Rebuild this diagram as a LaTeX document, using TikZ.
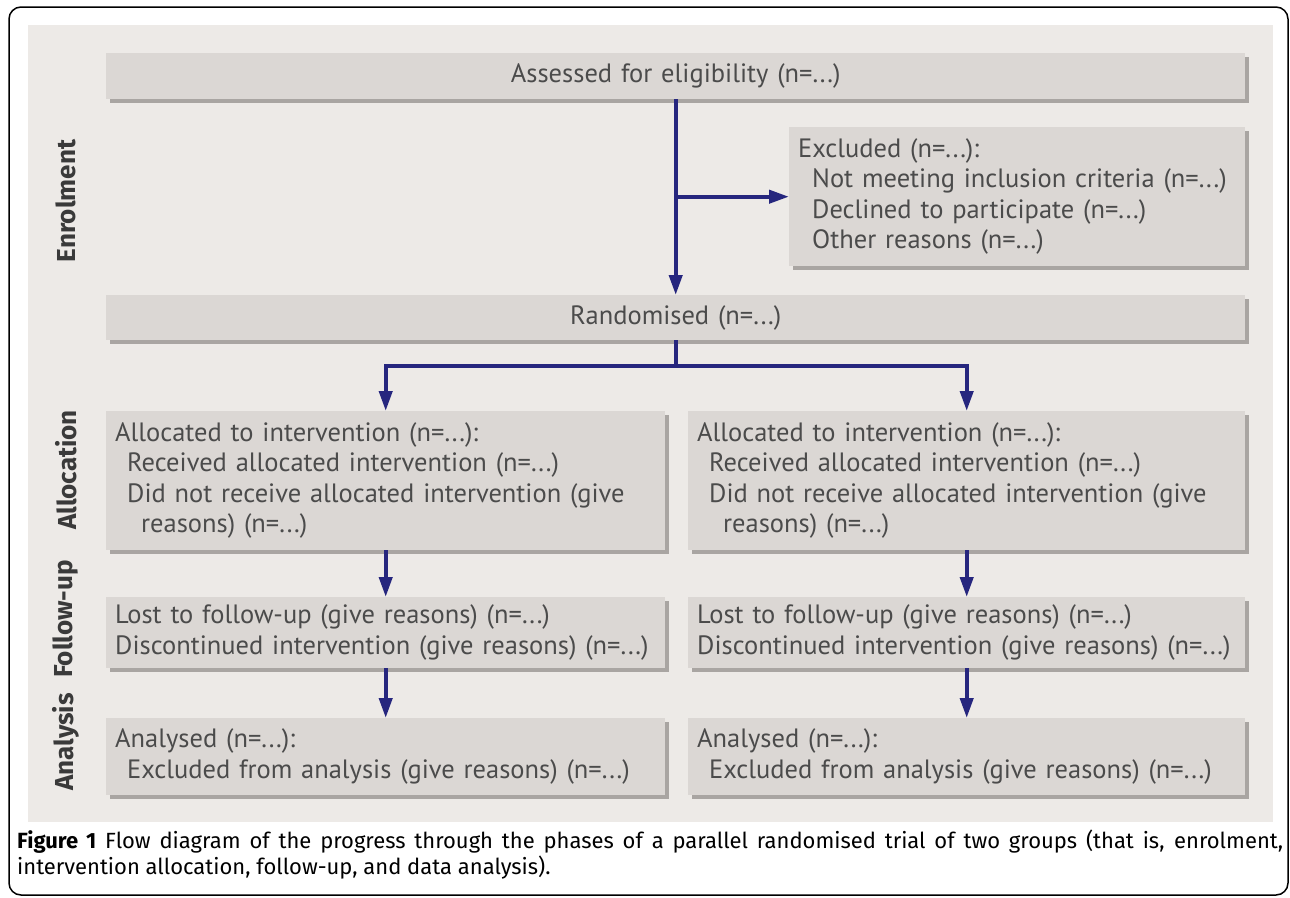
\documentclass[tikz,border=0pt]{standalone}
\usepackage{fontspec}
\setmainfont{PT Sans}
\newfontfamily\phasefont{Fira Sans}
\newfontfamily\capfont{Fira Sans}
\usetikzlibrary{arrows.meta,shadows}

\definecolor{boxgray}{HTML}{DBD7D4}
\definecolor{shadowgray}{HTML}{A9A5A2}
\definecolor{panelgray}{HTML}{EDEAE7}
\definecolor{flownavy}{HTML}{26267E}
\definecolor{boxtext}{HTML}{4B4B4B}
\definecolor{phasetext}{HTML}{3A3A3A}

\begin{document}
\begin{tikzpicture}[x=1pt,y=-1pt]

      \useasboundingbox (0,0) rectangle (1290,897);
      \draw[line width=1.5pt, rounded corners=12pt] (9,7) rectangle (1288,895);
      \fill[panelgray] (28,25) rectangle (1273,822);

      \begin{scope}[every node/.style={anchor=north west, fill=boxgray, inner xsep=9pt, inner ysep=0pt,
          text=boxtext, font=\fontsize{26.5}{30.5}\selectfont,
          drop shadow={shadow xshift=4pt, shadow yshift=-4pt, fill=shadowgray, opacity=1}}]
        \node[text width=1121pt, minimum height=46pt, align=center] (assess) at (106,53)
          {Assessed for eligibility (n=...)};
        \node[text width=438pt, minimum height=139pt, align=left] (excl) at (789,127)
          {Excluded (n=...):\\
           \hspace*{14pt}Not meeting inclusion criteria (n=...)\\
           \hspace*{14pt}Declined to participate (n=...)\\
           \hspace*{14pt}Other reasons (n=...)};
        \node[text width=1121pt, minimum height=45pt, align=center] (rand) at (106,295)
          {Randomised (n=...)};
        \node[text width=541pt, minimum height=139pt, align=left] (allocL) at (106,411)
          {Allocated to intervention (n=...):\\
           \hspace*{12pt}Received allocated intervention (n=...)\\
           \hspace*{12pt}Did not receive allocated intervention (give\\
           \hspace*{26pt}reasons) (n=...)};
        \node[text width=539pt, minimum height=139pt, align=left] (allocR) at (688,411)
          {Allocated to intervention (n=...):\\
           \hspace*{12pt}Received allocated intervention (n=...)\\
           \hspace*{12pt}Did not receive allocated intervention (give\\
           \hspace*{26pt}reasons) (n=...)};
        \node[text width=541pt, minimum height=71pt, align=left] (lostL) at (106,597)
          {Lost to follow-up (give reasons) (n=...)\\
           Discontinued intervention (give reasons) (n=...)};
        \node[text width=539pt, minimum height=71pt, align=left] (lostR) at (688,597)
          {Lost to follow-up (give reasons) (n=...)\\
           Discontinued intervention (give reasons) (n=...)};
        \node[text width=541pt, minimum height=77pt, align=left] (anaL) at (106,718)
          {Analysed (n=...):\\
           \hspace*{12pt}Excluded from analysis (give reasons) (n=...)};
        \node[text width=539pt, minimum height=77pt, align=left] (anaR) at (688,718)
          {Analysed (n=...):\\
           \hspace*{12pt}Excluded from analysis (give reasons) (n=...)};
      \end{scope}

      \begin{scope}[every node/.style={rotate=90, text=phasetext,
          font=\phasefont\bfseries\fontsize{26}{26}\selectfont}]
        \node (enrol)  at (66,201) {Enrolment};
        \node (alloc)  at (66,470) {Allocation};
        \node (follow) at (66,619) {Follow-up};
        \node (analy)  at (66,742) {Analysis};
      \end{scope}

      \coordinate (split) at ([yshift=-26pt]rand.south);

      \begin{scope}[flownavy, line width=4pt, -{Triangle[length=20pt,width=13pt]}]
        \draw (assess.south) -- (rand.north);
        \draw (assess.south |- excl.west) -- (excl.west);
        \draw[-] (rand.south) -- (split);
        \draw (split) -| (allocL.north);
        \draw (split) -| (allocR.north);
        \draw (allocL.south) -- (lostL.north);
        \draw (allocR.south) -- (lostR.north);
        \draw (lostL.south) -- (anaL.north);
        \draw (lostR.south) -- (anaR.north);
      \end{scope}

      \node[anchor=north west, text width=1266pt, align=justify, inner sep=0pt,
        font=\capfont\fontsize{22}{26}\selectfont] (caption) at (17,830)
        {\textbf{Figure 1} Flow diagram of the progress through the phases of a parallel randomised
         trial of two groups (that is, enrolment,\linebreak intervention allocation, follow-up, and
         data analysis).};

    \end{tikzpicture}
\end{document}
